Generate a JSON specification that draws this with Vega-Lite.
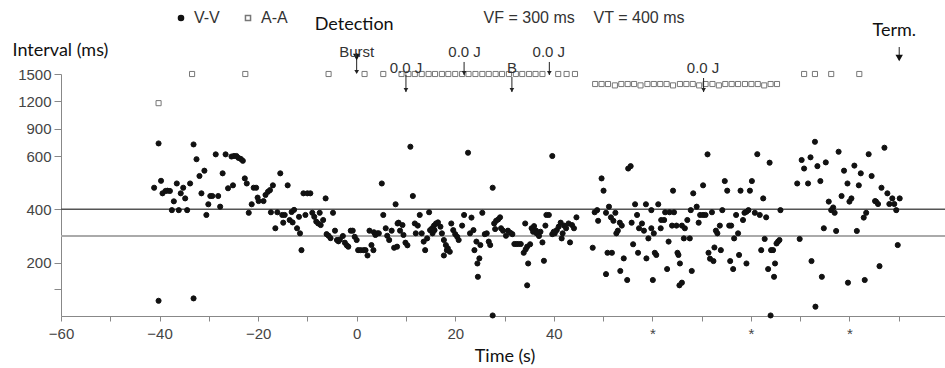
{
"$schema":"https://vega.github.io/schema/vega-lite/v6.json",
"width":887,"height":242,
"autosize":{"type":"none"},
"padding":{"left":61,"top":74,"right":0,"bottom":52},
"background":"white",
"config":{"view":{"stroke":null}},
"datasets":{
"pts":[
{"t":-40.2,"ms":1180,"series":"A-A"},{"t":-33.4,"ms":1500,"series":"A-A"},{"t":-22.6,"ms":1500,"series":"A-A"},{"t":-5.7,"ms":1500,"series":"A-A"},{"t":1.6,"ms":1500,"series":"A-A"},{"t":5.4,"ms":1500,"series":"A-A"},{"t":9.1,"ms":1500,"series":"A-A"},{"t":10.5,"ms":1500,"series":"A-A"},{"t":11.8,"ms":1500,"series":"A-A"},{"t":13.2,"ms":1500,"series":"A-A"},{"t":14.6,"ms":1500,"series":"A-A"},{"t":15.9,"ms":1500,"series":"A-A"},{"t":17.3,"ms":1500,"series":"A-A"},{"t":18.6,"ms":1500,"series":"A-A"},{"t":20.0,"ms":1500,"series":"A-A"},{"t":21.4,"ms":1500,"series":"A-A"},{"t":22.7,"ms":1500,"series":"A-A"},{"t":24.1,"ms":1500,"series":"A-A"},{"t":25.5,"ms":1500,"series":"A-A"},{"t":26.8,"ms":1500,"series":"A-A"},{"t":28.2,"ms":1500,"series":"A-A"},{"t":29.5,"ms":1500,"series":"A-A"},{"t":30.9,"ms":1500,"series":"A-A"},{"t":32.3,"ms":1500,"series":"A-A"},{"t":33.6,"ms":1500,"series":"A-A"},{"t":35.0,"ms":1500,"series":"A-A"},{"t":36.3,"ms":1500,"series":"A-A"},{"t":37.7,"ms":1500,"series":"A-A"},{"t":40.9,"ms":1500,"series":"A-A"},{"t":42.6,"ms":1500,"series":"A-A"},{"t":44.3,"ms":1500,"series":"A-A"},
{"t":48.4,"ms":1390,"series":"A-A"},{"t":49.7,"ms":1390,"series":"A-A"},{"t":51.0,"ms":1390,"series":"A-A"},{"t":52.4,"ms":1375,"series":"A-A"},{"t":53.7,"ms":1390,"series":"A-A"},{"t":55.0,"ms":1390,"series":"A-A"},{"t":56.3,"ms":1390,"series":"A-A"},{"t":57.6,"ms":1375,"series":"A-A"},{"t":59.0,"ms":1390,"series":"A-A"},{"t":60.3,"ms":1390,"series":"A-A"},{"t":61.6,"ms":1390,"series":"A-A"},{"t":62.9,"ms":1390,"series":"A-A"},{"t":64.2,"ms":1375,"series":"A-A"},{"t":65.6,"ms":1390,"series":"A-A"},{"t":66.9,"ms":1390,"series":"A-A"},{"t":68.2,"ms":1390,"series":"A-A"},{"t":69.5,"ms":1375,"series":"A-A"},{"t":70.8,"ms":1390,"series":"A-A"},{"t":72.2,"ms":1390,"series":"A-A"},{"t":73.5,"ms":1375,"series":"A-A"},{"t":74.8,"ms":1390,"series":"A-A"},{"t":76.1,"ms":1390,"series":"A-A"},{"t":77.4,"ms":1390,"series":"A-A"},{"t":78.8,"ms":1390,"series":"A-A"},{"t":80.1,"ms":1390,"series":"A-A"},{"t":81.4,"ms":1390,"series":"A-A"},{"t":82.7,"ms":1375,"series":"A-A"},{"t":84.0,"ms":1390,"series":"A-A"},{"t":85.3,"ms":1390,"series":"A-A"},
{"t":90.8,"ms":1500,"series":"A-A"},{"t":93.0,"ms":1500,"series":"A-A"},{"t":96.3,"ms":1500,"series":"A-A"},{"t":102.0,"ms":1500,"series":"A-A"},
{"t":-41.1,"ms":481,"series":"V-V"},{"t":-40.2,"ms":738,"series":"V-V"},{"t":-40.2,"ms":57,"series":"V-V"},{"t":-39.7,"ms":507,"series":"V-V"},{"t":-39.4,"ms":460,"series":"V-V"},{"t":-38.8,"ms":469,"series":"V-V"},{"t":-38.4,"ms":470,"series":"V-V"},{"t":-37.9,"ms":469,"series":"V-V"},{"t":-37.5,"ms":397,"series":"V-V"},{"t":-37.1,"ms":430,"series":"V-V"},{"t":-36.5,"ms":497,"series":"V-V"},{"t":-36.1,"ms":397,"series":"V-V"},{"t":-35.7,"ms":460,"series":"V-V"},{"t":-35.2,"ms":481,"series":"V-V"},{"t":-34.8,"ms":441,"series":"V-V"},{"t":-34.4,"ms":397,"series":"V-V"},{"t":-33.8,"ms":497,"series":"V-V"},{"t":-33.1,"ms":727,"series":"V-V"},{"t":-33.1,"ms":66,"series":"V-V"},{"t":-32.5,"ms":588,"series":"V-V"},{"t":-31.9,"ms":525,"series":"V-V"},{"t":-31.5,"ms":460,"series":"V-V"},{"t":-30.9,"ms":545,"series":"V-V"},{"t":-30.5,"ms":379,"series":"V-V"},{"t":-30.1,"ms":419,"series":"V-V"},{"t":-29.7,"ms":450,"series":"V-V"},{"t":-29.3,"ms":450,"series":"V-V"},{"t":-28.6,"ms":618,"series":"V-V"},{"t":-28.1,"ms":450,"series":"V-V"},{"t":-27.7,"ms":410,"series":"V-V"},{"t":-27.2,"ms":535,"series":"V-V"},{"t":-26.6,"ms":618,"series":"V-V"},{"t":-26.1,"ms":479,"series":"V-V"},{"t":-25.4,"ms":598,"series":"V-V"},{"t":-24.9,"ms":600,"series":"V-V"},{"t":-25.1,"ms":490,"series":"V-V"},{"t":-24.4,"ms":600,"series":"V-V"},{"t":-24.0,"ms":593,"series":"V-V"},{"t":-23.5,"ms":589,"series":"V-V"},{"t":-23.1,"ms":582,"series":"V-V"},{"t":-22.7,"ms":516,"series":"V-V"},{"t":-22.3,"ms":497,"series":"V-V"},{"t":-21.9,"ms":387,"series":"V-V"},{"t":-21.3,"ms":419,"series":"V-V"},{"t":-20.9,"ms":481,"series":"V-V"},{"t":-20.4,"ms":481,"series":"V-V"},{"t":-20.1,"ms":444,"series":"V-V"},{"t":-19.9,"ms":431,"series":"V-V"},{"t":-18.9,"ms":431,"series":"V-V"},{"t":-18.5,"ms":454,"series":"V-V"},{"t":-18.0,"ms":466,"series":"V-V"},
{"t":-17.6,"ms":472,"series":"V-V"},{"t":-17.0,"ms":490,"series":"V-V"},{"t":-15.5,"ms":535,"series":"V-V"},{"t":-17.4,"ms":389,"series":"V-V"},{"t":-16.1,"ms":389,"series":"V-V"},{"t":-16.5,"ms":329,"series":"V-V"},{"t":-15.1,"ms":379,"series":"V-V"},{"t":-14.6,"ms":379,"series":"V-V"},{"t":-14.9,"ms":350,"series":"V-V"},{"t":-14.0,"ms":490,"series":"V-V"},{"t":-13.6,"ms":360,"series":"V-V"},{"t":-13.2,"ms":390,"series":"V-V"},{"t":-12.7,"ms":398,"series":"V-V"},{"t":-13.0,"ms":351,"series":"V-V"},{"t":-12.1,"ms":329,"series":"V-V"},{"t":-11.7,"ms":372,"series":"V-V"},{"t":-11.5,"ms":310,"series":"V-V"},{"t":-11.2,"ms":247,"series":"V-V"},{"t":-10.8,"ms":460,"series":"V-V"},{"t":-10.0,"ms":460,"series":"V-V"},{"t":-9.4,"ms":460,"series":"V-V"},{"t":-10.4,"ms":379,"series":"V-V"},{"t":-9.0,"ms":387,"series":"V-V"},{"t":-8.6,"ms":372,"series":"V-V"},{"t":-8.2,"ms":354,"series":"V-V"},{"t":-7.8,"ms":347,"series":"V-V"},{"t":-7.3,"ms":341,"series":"V-V"},{"t":-7.5,"ms":387,"series":"V-V"},{"t":-6.8,"ms":360,"series":"V-V"},{"t":-6.3,"ms":441,"series":"V-V"},{"t":-6.1,"ms":307,"series":"V-V"},{"t":-5.7,"ms":301,"series":"V-V"},{"t":-5.3,"ms":292,"series":"V-V"},{"t":-4.8,"ms":387,"series":"V-V"},{"t":-4.4,"ms":320,"series":"V-V"},{"t":-4.0,"ms":285,"series":"V-V"},{"t":-3.7,"ms":280,"series":"V-V"},{"t":-3.4,"ms":287,"series":"V-V"},{"t":-2.8,"ms":300,"series":"V-V"},{"t":-2.4,"ms":275,"series":"V-V"},{"t":-2.0,"ms":265,"series":"V-V"},{"t":-1.7,"ms":260,"series":"V-V"},{"t":-1.2,"ms":320,"series":"V-V"},{"t":-0.8,"ms":320,"series":"V-V"},{"t":-0.4,"ms":297,"series":"V-V"},{"t":0.0,"ms":285,"series":"V-V"},{"t":0.3,"ms":247,"series":"V-V"},{"t":0.8,"ms":247,"series":"V-V"},{"t":1.4,"ms":247,"series":"V-V"},{"t":1.8,"ms":247,"series":"V-V"},{"t":2.2,"ms":227,"series":"V-V"},{"t":2.6,"ms":320,"series":"V-V"},{"t":3.5,"ms":314,"series":"V-V"},{"t":3.0,"ms":266,"series":"V-V"},{"t":3.4,"ms":247,"series":"V-V"},{"t":3.8,"ms":304,"series":"V-V"},{"t":4.2,"ms":310,"series":"V-V"},{"t":4.5,"ms":310,"series":"V-V"},{"t":5.1,"ms":497,"series":"V-V"},{"t":5.4,"ms":379,"series":"V-V"},{"t":5.9,"ms":329,"series":"V-V"},{"t":6.2,"ms":301,"series":"V-V"},{"t":6.6,"ms":285,"series":"V-V"},{"t":7.1,"ms":320,"series":"V-V"},{"t":7.6,"ms":256,"series":"V-V"},{"t":7.9,"ms":419,"series":"V-V"},{"t":8.3,"ms":347,"series":"V-V"},
{"t":8.2,"ms":260,"series":"V-V"},{"t":8.5,"ms":350,"series":"V-V"},{"t":9.3,"ms":341,"series":"V-V"},{"t":8.8,"ms":320,"series":"V-V"},{"t":9.5,"ms":304,"series":"V-V"},{"t":9.9,"ms":275,"series":"V-V"},{"t":10.3,"ms":265,"series":"V-V"},{"t":10.9,"ms":702,"series":"V-V"},{"t":11.4,"ms":450,"series":"V-V"},{"t":11.8,"ms":347,"series":"V-V"},{"t":12.4,"ms":339,"series":"V-V"},{"t":12.0,"ms":310,"series":"V-V"},{"t":12.8,"ms":379,"series":"V-V"},{"t":13.2,"ms":310,"series":"V-V"},{"t":13.6,"ms":279,"series":"V-V"},{"t":13.9,"ms":247,"series":"V-V"},{"t":14.3,"ms":291,"series":"V-V"},{"t":14.7,"ms":389,"series":"V-V"},{"t":14.9,"ms":322,"series":"V-V"},{"t":15.3,"ms":329,"series":"V-V"},{"t":15.7,"ms":339,"series":"V-V"},{"t":16.1,"ms":347,"series":"V-V"},{"t":16.5,"ms":351,"series":"V-V"},{"t":15.4,"ms":310,"series":"V-V"},{"t":15.8,"ms":322,"series":"V-V"},{"t":17.0,"ms":335,"series":"V-V"},{"t":17.3,"ms":310,"series":"V-V"},{"t":17.7,"ms":285,"series":"V-V"},{"t":18.1,"ms":266,"series":"V-V"},{"t":18.5,"ms":254,"series":"V-V"},{"t":18.9,"ms":241,"series":"V-V"},{"t":18.3,"ms":247,"series":"V-V"},{"t":17.7,"ms":227,"series":"V-V"},{"t":19.2,"ms":347,"series":"V-V"},{"t":19.6,"ms":322,"series":"V-V"},{"t":20.0,"ms":307,"series":"V-V"},{"t":20.4,"ms":297,"series":"V-V"},{"t":20.7,"ms":285,"series":"V-V"},{"t":21.4,"ms":339,"series":"V-V"},{"t":21.8,"ms":379,"series":"V-V"},{"t":22.6,"ms":636,"series":"V-V"},{"t":23.0,"ms":310,"series":"V-V"},{"t":23.3,"ms":369,"series":"V-V"},{"t":23.7,"ms":322,"series":"V-V"},{"t":23.9,"ms":247,"series":"V-V"},{"t":24.3,"ms":279,"series":"V-V"},{"t":24.5,"ms":197,"series":"V-V"},{"t":24.9,"ms":216,"series":"V-V"},{"t":24.6,"ms":147,"series":"V-V"},{"t":25.1,"ms":266,"series":"V-V"},{"t":25.5,"ms":387,"series":"V-V"},{"t":26.0,"ms":307,"series":"V-V"},{"t":26.4,"ms":310,"series":"V-V"},{"t":26.8,"ms":279,"series":"V-V"},{"t":27.1,"ms":266,"series":"V-V"},{"t":27.6,"ms":481,"series":"V-V"},{"t":27.6,"ms":2,"series":"V-V"},{"t":27.9,"ms":347,"series":"V-V"},{"t":28.3,"ms":357,"series":"V-V"},{"t":28.7,"ms":362,"series":"V-V"},{"t":29.1,"ms":370,"series":"V-V"},{"t":28.1,"ms":326,"series":"V-V"},{"t":29.3,"ms":329,"series":"V-V"},{"t":29.7,"ms":320,"series":"V-V"},{"t":30.3,"ms":301,"series":"V-V"},{"t":30.7,"ms":320,"series":"V-V"},{"t":31.2,"ms":312,"series":"V-V"},{"t":31.6,"ms":307,"series":"V-V"},{"t":32.0,"ms":270,"series":"V-V"},{"t":32.4,"ms":270,"series":"V-V"},{"t":32.8,"ms":270,"series":"V-V"},{"t":33.3,"ms":270,"series":"V-V"},{"t":33.9,"ms":237,"series":"V-V"},{"t":34.2,"ms":347,"series":"V-V"},
{"t":34.3,"ms":250,"series":"V-V"},{"t":34.6,"ms":260,"series":"V-V"},{"t":34.8,"ms":197,"series":"V-V"},{"t":34.6,"ms":115,"series":"V-V"},{"t":35.2,"ms":269,"series":"V-V"},{"t":35.5,"ms":329,"series":"V-V"},{"t":36.0,"ms":337,"series":"V-V"},{"t":36.4,"ms":320,"series":"V-V"},{"t":36.8,"ms":307,"series":"V-V"},{"t":37.3,"ms":316,"series":"V-V"},{"t":35.8,"ms":316,"series":"V-V"},{"t":36.5,"ms":310,"series":"V-V"},{"t":37.0,"ms":300,"series":"V-V"},{"t":37.7,"ms":276,"series":"V-V"},{"t":38.0,"ms":207,"series":"V-V"},{"t":38.3,"ms":339,"series":"V-V"},{"t":38.5,"ms":379,"series":"V-V"},{"t":39.0,"ms":379,"series":"V-V"},{"t":39.7,"ms":600,"series":"V-V"},{"t":39.7,"ms":307,"series":"V-V"},{"t":40.2,"ms":310,"series":"V-V"},{"t":40.6,"ms":322,"series":"V-V"},{"t":41.0,"ms":335,"series":"V-V"},{"t":41.4,"ms":350,"series":"V-V"},{"t":41.8,"ms":310,"series":"V-V"},{"t":42.1,"ms":339,"series":"V-V"},{"t":42.5,"ms":329,"series":"V-V"},{"t":43.0,"ms":347,"series":"V-V"},{"t":43.3,"ms":276,"series":"V-V"},{"t":43.7,"ms":341,"series":"V-V"},{"t":44.1,"ms":329,"series":"V-V"},{"t":44.6,"ms":370,"series":"V-V"},{"t":40.0,"ms":316,"series":"V-V"},{"t":41.6,"ms":291,"series":"V-V"},
{"t":47.9,"ms":256,"series":"V-V"},{"t":48.3,"ms":389,"series":"V-V"},{"t":48.8,"ms":397,"series":"V-V"},{"t":49.0,"ms":357,"series":"V-V"},{"t":49.7,"ms":516,"series":"V-V"},{"t":50.1,"ms":470,"series":"V-V"},{"t":50.6,"ms":387,"series":"V-V"},{"t":50.6,"ms":157,"series":"V-V"},{"t":50.9,"ms":237,"series":"V-V"},{"t":51.8,"ms":237,"series":"V-V"},{"t":51.2,"ms":410,"series":"V-V"},{"t":51.6,"ms":370,"series":"V-V"},{"t":52.1,"ms":357,"series":"V-V"},{"t":52.5,"ms":387,"series":"V-V"},{"t":52.7,"ms":310,"series":"V-V"},{"t":53.0,"ms":320,"series":"V-V"},{"t":53.4,"ms":350,"series":"V-V"},{"t":53.8,"ms":339,"series":"V-V"},{"t":53.5,"ms":169,"series":"V-V"},{"t":54.2,"ms":216,"series":"V-V"},{"t":54.9,"ms":135,"series":"V-V"},{"t":55.1,"ms":553,"series":"V-V"},{"t":55.6,"ms":562,"series":"V-V"},{"t":55.8,"ms":350,"series":"V-V"},{"t":56.1,"ms":269,"series":"V-V"},{"t":56.5,"ms":419,"series":"V-V"},{"t":56.9,"ms":379,"series":"V-V"},{"t":57.1,"ms":237,"series":"V-V"},{"t":57.3,"ms":329,"series":"V-V"},{"t":57.9,"ms":347,"series":"V-V"},{"t":58.3,"ms":320,"series":"V-V"},{"t":58.7,"ms":419,"series":"V-V"},{"t":58.8,"ms":216,"series":"V-V"},{"t":59.2,"ms":291,"series":"V-V"},{"t":59.8,"ms":397,"series":"V-V"},{"t":60.1,"ms":135,"series":"V-V"},
{"t":59.8,"ms":329,"series":"V-V"},{"t":60.3,"ms":310,"series":"V-V"},{"t":60.5,"ms":237,"series":"V-V"},{"t":60.8,"ms":229,"series":"V-V"},{"t":61.2,"ms":419,"series":"V-V"},{"t":61.7,"ms":329,"series":"V-V"},{"t":61.8,"ms":360,"series":"V-V"},{"t":62.4,"ms":360,"series":"V-V"},{"t":62.6,"ms":389,"series":"V-V"},{"t":63.5,"ms":389,"series":"V-V"},{"t":64.4,"ms":389,"series":"V-V"},{"t":63.0,"ms":176,"series":"V-V"},{"t":63.3,"ms":279,"series":"V-V"},{"t":64.0,"ms":339,"series":"V-V"},{"t":64.2,"ms":470,"series":"V-V"},{"t":64.9,"ms":339,"series":"V-V"},{"t":65.1,"ms":237,"series":"V-V"},{"t":65.3,"ms":229,"series":"V-V"},{"t":65.6,"ms":197,"series":"V-V"},{"t":65.5,"ms":115,"series":"V-V"},{"t":66.0,"ms":125,"series":"V-V"},{"t":66.0,"ms":339,"series":"V-V"},{"t":66.6,"ms":329,"series":"V-V"},{"t":66.4,"ms":291,"series":"V-V"},{"t":67.6,"ms":291,"series":"V-V"},{"t":67.1,"ms":360,"series":"V-V"},{"t":67.8,"ms":397,"series":"V-V"},{"t":68.0,"ms":169,"series":"V-V"},{"t":68.3,"ms":460,"series":"V-V"},{"t":69.0,"ms":410,"series":"V-V"},{"t":69.4,"ms":350,"series":"V-V"},{"t":69.7,"ms":379,"series":"V-V"},{"t":70.3,"ms":379,"series":"V-V"},{"t":70.8,"ms":379,"series":"V-V"},{"t":70.3,"ms":490,"series":"V-V"},{"t":71.2,"ms":618,"series":"V-V"},{"t":71.4,"ms":237,"series":"V-V"},{"t":71.7,"ms":215,"series":"V-V"},{"t":72.4,"ms":206,"series":"V-V"},{"t":72.1,"ms":389,"series":"V-V"},{"t":72.6,"ms":257,"series":"V-V"},{"t":72.9,"ms":320,"series":"V-V"},{"t":73.2,"ms":310,"series":"V-V"},{"t":73.7,"ms":339,"series":"V-V"},{"t":73.9,"ms":247,"series":"V-V"},{"t":74.2,"ms":397,"series":"V-V"},{"t":74.7,"ms":506,"series":"V-V"},{"t":75.2,"ms":470,"series":"V-V"},{"t":75.6,"ms":339,"series":"V-V"},{"t":76.0,"ms":339,"series":"V-V"},{"t":75.8,"ms":206,"series":"V-V"},{"t":76.4,"ms":176,"series":"V-V"},{"t":76.6,"ms":291,"series":"V-V"},{"t":77.0,"ms":379,"series":"V-V"},{"t":77.4,"ms":310,"series":"V-V"},{"t":77.6,"ms":229,"series":"V-V"},{"t":77.9,"ms":470,"series":"V-V"},{"t":78.4,"ms":360,"series":"V-V"},{"t":78.7,"ms":387,"series":"V-V"},{"t":79.1,"ms":391,"series":"V-V"},{"t":79.5,"ms":397,"series":"V-V"},{"t":79.1,"ms":197,"series":"V-V"},{"t":79.8,"ms":470,"series":"V-V"},{"t":80.2,"ms":506,"series":"V-V"},{"t":80.8,"ms":387,"series":"V-V"},{"t":81.3,"ms":620,"series":"V-V"},{"t":81.8,"ms":379,"series":"V-V"},{"t":82.1,"ms":247,"series":"V-V"},{"t":82.5,"ms":441,"series":"V-V"},{"t":82.8,"ms":289,"series":"V-V"},{"t":83.1,"ms":370,"series":"V-V"},{"t":83.5,"ms":176,"series":"V-V"},{"t":83.8,"ms":575,"series":"V-V"},{"t":84.0,"ms":2,"series":"V-V"},{"t":84.1,"ms":247,"series":"V-V"},{"t":84.5,"ms":247,"series":"V-V"},{"t":84.7,"ms":147,"series":"V-V"},{"t":84.9,"ms":197,"series":"V-V"},{"t":85.2,"ms":272,"series":"V-V"},{"t":85.5,"ms":279,"series":"V-V"},{"t":85.8,"ms":285,"series":"V-V"},{"t":86.0,"ms":397,"series":"V-V"},
{"t":89.4,"ms":497,"series":"V-V"},{"t":91.6,"ms":497,"series":"V-V"},{"t":89.9,"ms":289,"series":"V-V"},{"t":90.3,"ms":585,"series":"V-V"},{"t":90.8,"ms":553,"series":"V-V"},{"t":92.1,"ms":595,"series":"V-V"},{"t":92.3,"ms":206,"series":"V-V"},{"t":93.0,"ms":756,"series":"V-V"},{"t":93.1,"ms":35,"series":"V-V"},{"t":93.5,"ms":562,"series":"V-V"},{"t":94.1,"ms":506,"series":"V-V"},{"t":94.4,"ms":147,"series":"V-V"},{"t":94.8,"ms":329,"series":"V-V"},{"t":95.2,"ms":576,"series":"V-V"},{"t":95.8,"ms":429,"series":"V-V"},{"t":96.3,"ms":397,"series":"V-V"},{"t":96.7,"ms":407,"series":"V-V"},{"t":97.0,"ms":387,"series":"V-V"},{"t":97.3,"ms":319,"series":"V-V"},{"t":97.8,"ms":647,"series":"V-V"},{"t":98.4,"ms":450,"series":"V-V"},{"t":98.9,"ms":545,"series":"V-V"},{"t":99.7,"ms":125,"series":"V-V"},{"t":99.6,"ms":497,"series":"V-V"},{"t":100.0,"ms":429,"series":"V-V"},{"t":100.4,"ms":441,"series":"V-V"},{"t":101.0,"ms":564,"series":"V-V"},{"t":101.5,"ms":319,"series":"V-V"},{"t":101.9,"ms":490,"series":"V-V"},{"t":102.3,"ms":535,"series":"V-V"},{"t":102.9,"ms":369,"series":"V-V"},{"t":103.1,"ms":135,"series":"V-V"},{"t":103.4,"ms":387,"series":"V-V"},{"t":103.9,"ms":620,"series":"V-V"},{"t":104.5,"ms":525,"series":"V-V"},{"t":105.2,"ms":431,"series":"V-V"},{"t":105.4,"ms":429,"series":"V-V"},{"t":105.8,"ms":420,"series":"V-V"},{"t":106.1,"ms":187,"series":"V-V"},{"t":106.5,"ms":481,"series":"V-V"},{"t":107.1,"ms":691,"series":"V-V"},{"t":107.7,"ms":460,"series":"V-V"},{"t":108.1,"ms":420,"series":"V-V"},{"t":108.7,"ms":441,"series":"V-V"},{"t":109.1,"ms":420,"series":"V-V"},{"t":109.5,"ms":397,"series":"V-V"},{"t":109.8,"ms":266,"series":"V-V"},{"t":110.2,"ms":441,"series":"V-V"}
],
"refs":[{"ms":400,"kind":"VT"},{"ms":300,"kind":"VF"}],
"arrows":[
{"t":0,"ms":1730,"ms2":1511,"event":"detect"},
{"t":10,"ms":1489,"ms2":1302,"event":"shock"},
{"t":21.8,"ms":1632,"ms2":1489,"event":"shock"},
{"t":31.5,"ms":1467,"ms2":1302,"event":"burst"},
{"t":39.1,"ms":1632,"ms2":1489,"event":"shock"},
{"t":70.4,"ms":1456,"ms2":1302,"event":"shock"},
{"t":110.1,"ms":1796,"ms2":1654,"event":"term"}
],
"heads":[
{"t":0,"ms":1687,"event":"detect"},
{"t":0,"ms":1522,"event":"burst"},
{"t":10,"ms":1324,"event":"shock"},
{"t":21.8,"ms":1511,"event":"shock"},
{"t":31.5,"ms":1324,"event":"burst"},
{"t":39.1,"ms":1511,"event":"shock"},
{"t":70.4,"ms":1324,"event":"shock"},
{"t":110.1,"ms":1676,"event":"term"}
],
"notes":[
{"t":0,"ms":1741,"text":"Burst","group":"marker"},
{"t":10,"ms":1566,"text":"0.0 J","group":"marker"},
{"t":21.9,"ms":1741,"text":"0.0 J","group":"marker"},
{"t":31.5,"ms":1566,"text":"B","group":"marker"},
{"t":39.0,"ms":1741,"text":"0.0 J","group":"marker"},
{"t":70.3,"ms":1566,"text":"0.0 J","group":"marker"},
{"t":35.0,"ms":2115,"text":"VF = 300 ms","group":"param"},
{"t":57.3,"ms":2115,"text":"VT = 400 ms","group":"param"},
{"t":-0.5,"ms":2038,"text":"Detection","group":"header"},
{"t":109.1,"ms":1972,"text":"Term.","group":"header"}
]
},
"layer":[
{
"data":{"name":"refs"},
"transform":[{"filter":"datum.kind === 'VF'"}],
"mark":{"type":"rule","color":"#aaaaaa","strokeWidth":2},
"encoding":{"y":{"field":"ms","type":"quantitative"}}
},
{
"data":{"name":"refs"},
"transform":[{"filter":"datum.kind === 'VT'"}],
"mark":{"type":"rule","color":"#555555","strokeWidth":1.5},
"encoding":{"y":{"field":"ms","type":"quantitative"}}
},
{
"data":{"name":"pts"},
"mark":{"type":"point","size":26,"strokeWidth":1,"opacity":1,"fillOpacity":1},
"encoding":{
"x":{"field":"t","type":"quantitative","scale":{"type":"linear","domain":[-60,120],"nice":false,"zero":false},
 "axis":{"title":"Time (s)","titleFont":"Lato","titleFontSize":18,"titleFontWeight":"normal","titleColor":"#111","titlePadding":6,
 "values":[-60,-55,-50,-45,-40,-35,-30,-25,-20,-15,-10,-5,0,5,10,15,20,25,30,35,40,45,50,55,60,65,70,75,80,85,90,95,100,105,110,115],
 "labelExpr":"datum.value % 20 === 0 ? (datum.value > 50 ? '*' : datum.label) : ''",
 "labelOverlap":false,"labelFlush":false,"labelFont":"Liberation Sans","labelFontSize":15,"labelColor":"#444","labelPadding":5,
 "tickSize":5,"tickColor":"#888","domainColor":"#888","grid":false}},
"y":{"field":"ms","type":"quantitative","scale":{"type":"linear","domain":[0,600,1500],"range":[242,82,0],"nice":false,"zero":false},
 "axis":{"title":"Interval (ms)","titleAngle":0,"titleAlign":"left","titleBaseline":"middle","titleX":-49,"titleY":-24,"titleFont":"Lato","titleFontSize":18,"titleFontWeight":"normal","titleColor":"#111",
 "values":[100,200,400,600,900,1200,1500],"labelExpr":"datum.value === 100 ? '' : datum.label","format":"d",
 "labelFont":"Liberation Sans","labelFontSize":15,"labelColor":"#444","labelPadding":3,"tickSize":7,"tickColor":"#888","domainColor":"#888","grid":false}},
"shape":{"field":"series","type":"nominal","scale":{"domain":["V-V","A-A"],"range":["circle","square"]},
 "legend":{"orient":"none","legendX":112,"legendY":-64,"direction":"horizontal","title":null,"padding":0,"labelFont":"Liberation Sans","labelFontSize":16,"labelColor":"#333","symbolSize":26,"columnPadding":20,"labelOffset":5}},
"fill":{"field":"series","type":"nominal","scale":{"domain":["V-V","A-A"],"range":["#111111","#ffffff"]},
 "legend":{"orient":"none","legendX":112,"legendY":-64,"direction":"horizontal","title":null,"padding":0,"labelFont":"Liberation Sans","labelFontSize":16,"labelColor":"#333","symbolSize":26,"columnPadding":20,"labelOffset":5}},
"stroke":{"field":"series","type":"nominal","scale":{"domain":["V-V","A-A"],"range":["#111111","#777777"]},
 "legend":{"orient":"none","legendX":112,"legendY":-64,"direction":"horizontal","title":null,"padding":0,"labelFont":"Liberation Sans","labelFontSize":16,"labelColor":"#333","symbolSize":26,"columnPadding":20,"labelOffset":5}}
}
},
{
"data":{"name":"arrows"},
"mark":{"type":"rule","color":"#222222","strokeWidth":1},
"encoding":{"x":{"field":"t","type":"quantitative"},"y":{"field":"ms","type":"quantitative"},"y2":{"field":"ms2"}}
},
{
"data":{"name":"heads"},
"transform":[{"filter":"datum.event === 'shock' || datum.event === 'burst'"}],
"mark":{"type":"point","shape":"triangle-down","filled":true,"color":"#222222","size":22,"opacity":1},
"encoding":{"x":{"field":"t","type":"quantitative"},"y":{"field":"ms","type":"quantitative"}}
},
{
"data":{"name":"heads"},
"transform":[{"filter":"datum.event === 'detect' || datum.event === 'term'"}],
"mark":{"type":"point","shape":"triangle-down","filled":true,"color":"#111111","size":55,"opacity":1},
"encoding":{"x":{"field":"t","type":"quantitative"},"y":{"field":"ms","type":"quantitative"}}
},
{
"data":{"name":"notes"},
"transform":[{"filter":"datum.group === 'marker'"}],
"mark":{"type":"text","font":"Liberation Sans","fontSize":15,"color":"#333333","align":"center","baseline":"middle"},
"encoding":{"x":{"field":"t","type":"quantitative"},"y":{"field":"ms","type":"quantitative"},"text":{"field":"text"}}
},
{
"data":{"name":"notes"},
"transform":[{"filter":"datum.group === 'param'"}],
"mark":{"type":"text","font":"Liberation Sans","fontSize":16,"color":"#333333","align":"center","baseline":"middle"},
"encoding":{"x":{"field":"t","type":"quantitative"},"y":{"field":"ms","type":"quantitative"},"text":{"field":"text"}}
},
{
"data":{"name":"notes"},
"transform":[{"filter":"datum.group === 'header'"}],
"mark":{"type":"text","font":"Lato","fontSize":18,"color":"#111111","align":"center","baseline":"middle"},
"encoding":{"x":{"field":"t","type":"quantitative"},"y":{"field":"ms","type":"quantitative"},"text":{"field":"text"}}
}
]
}
